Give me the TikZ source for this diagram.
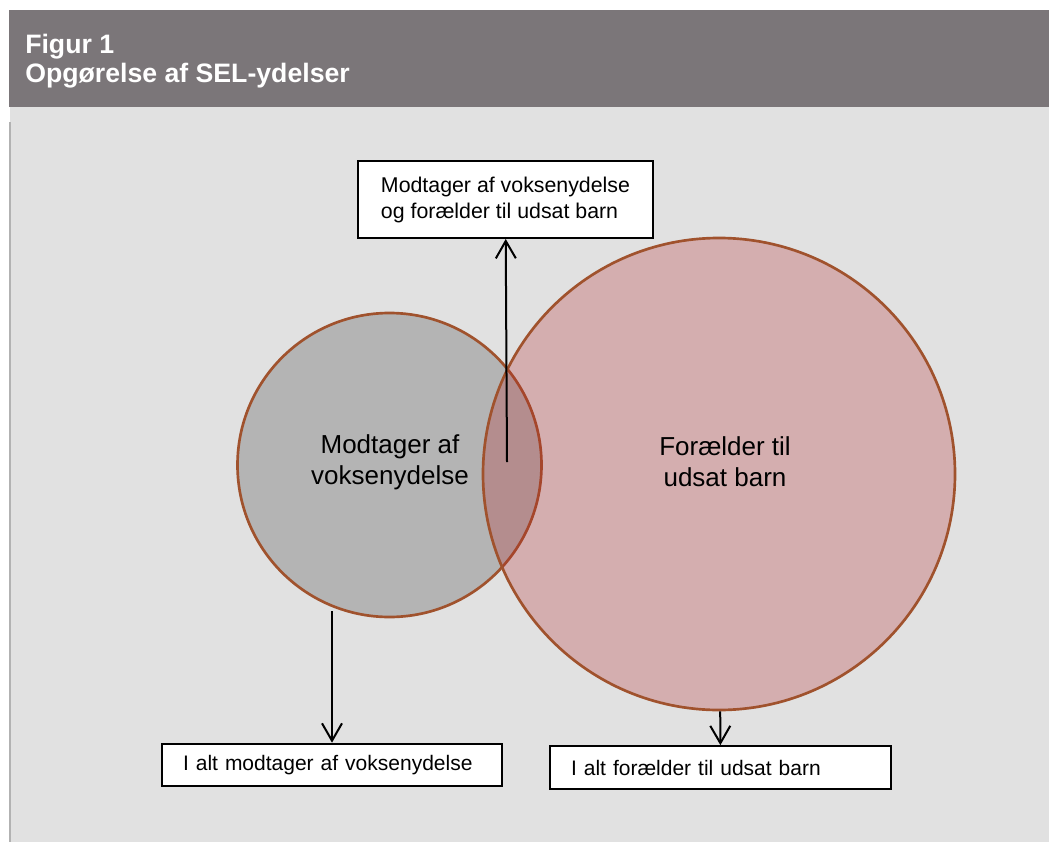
\documentclass[tikz,border=0pt]{standalone}
\usepackage{fontspec}
\setmainfont{Liberation Sans}
\usetikzlibrary{arrows.meta}

\definecolor{headgray}{RGB}{123,118,121}
\definecolor{panelgray}{RGB}{225,225,225}
\definecolor{edgegray}{RGB}{178,178,178}
\definecolor{ringbrown}{RGB}{160,82,45}
\definecolor{adultgray}{RGB}{180,180,180}
\definecolor{parentred}{RGB}{180,38,41}

\begin{document}
\begin{tikzpicture}[x=0.75pt,y=-0.75pt]
\tikzset{
  vennset/.style={circle,draw=ringbrown,line width=2pt,inner sep=0pt},
  vennlabel/.style={align=center,font=\fontsize{19.5}{23.25}\selectfont},
  labelbox/.style={rectangle,draw=black,fill=white,line width=1.5pt,font=\fontsize{16}{19.5}\selectfont},
  sumbox/.style={labelbox,align=left,inner xsep=15.75pt,minimum height=32pt,font=\fontsize{15.75}{19.5}\selectfont},
  pointer/.style={draw=black,line width=1.5pt,-{Straight Barb[length=13pt,width=15pt]}},
  titletext/.style={anchor=base west,inner sep=0pt,text=white,font=\bfseries\fontsize{20}{23}\selectfont}
}
\useasboundingbox (0,0) rectangle (1049,842);
\fill[headgray] (9,10) rectangle (1049,107);
\fill[panelgray] (10,107) rectangle (1049,842);
\draw[edgegray,line width=1.5pt] (10,122) -- (10,842);
\node[titletext] (n_fig) at (25,54) {Figur 1};
\node[titletext] (n_title) at (25,83) {Opgørelse af SEL-ydelser};
\node[vennset,fill=adultgray,minimum size=228pt] (n_adult) at (389.5,465) {};
\node[vennset,fill=parentred,fill opacity=0.27,minimum size=354pt] (n_parent) at (719,474) {};
\node[vennlabel] (n_adulttxt) at (390,462) {Modtager af\\voksenydelse};
\node[vennlabel] (n_parenttxt) at (725,462) {Forælder til\\udsat barn};
\node[labelbox,align=left,minimum width=221.25pt,minimum height=57.75pt] (n_both) at (505.5,199.5) {Modtager af voksenydelse\\og forælder til udsat barn};
\node[sumbox,text width=223.5pt] (n_totadult) at (332,765) {I alt modtager af voksenydelse};
\node[sumbox,text width=224.25pt] (n_totparent) at (720.5,767.5) {I alt forælder til udsat barn};
\coordinate (c_overlap) at (507,462);
\coordinate (c_adultfoot) at (332,611);
\draw[pointer] (c_overlap) -- (n_both);
\draw[pointer] (c_adultfoot) -- (n_totadult);
\draw[pointer] (n_parent) -- (n_totparent);
\end{tikzpicture}
\end{document}
